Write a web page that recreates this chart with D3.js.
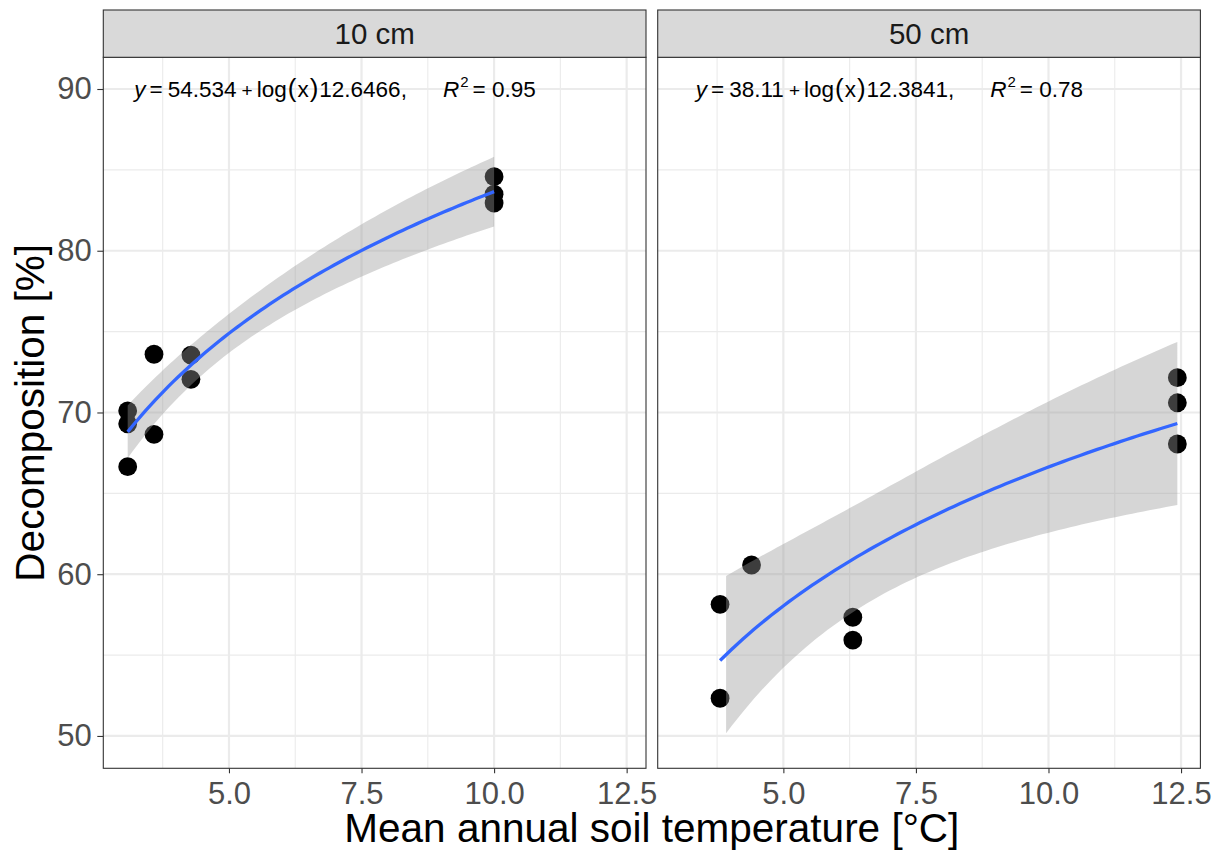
<!DOCTYPE html>
<html>
<head>
<meta charset="utf-8">
<script src="https://cdn.jsdelivr.net/npm/d3@7"></script>
<style>
  html, body { margin: 0; padding: 0; background: #fff; }
  svg { display: block; font-family: "Liberation Sans", Arial, sans-serif; }
</style>
</head>
<body>
<svg id="chart" width="1223" height="852"></svg>
<script>
// Facet labels (soil depth)
const depths = ["10 cm", "50 cm"];

// Mean annual soil temperature [°C] and decomposition [%] for each depth
const temp10 = [3.09, 3.09, 3.09, 3.586, 3.586, 4.283, 4.283, 10.0, 10.0, 10.0];
const decomp10 = [70.1, 69.3, 66.65, 73.6, 68.65, 73.55, 72.05, 84.58, 83.5, 82.95];
const temp50 = [3.806, 3.806, 4.40, 6.31, 6.31, 12.43, 12.43, 12.43];
const decomp50 = [58.14, 52.33, 60.57, 57.34, 55.93, 72.15, 70.6, 68.05];

// Fitted log models y = a + log(x) * b and their R²
const intercepts = [54.534, 38.11];
const slopes = [12.6466, 12.3841];
const r2Labels = ["0.95", "0.78"];
const interceptLabels = ["54.534", "38.11"];
const slopeLabels = ["12.6466", "12.3841"];
// lower x where each confidence ribbon begins
const ribbonStart = [3.09, 3.92];

// Axis breaks
const xBreaks = [5.0, 7.5, 10.0, 12.5];
const xMinor = [3.75, 6.25, 8.75, 11.25];
const yBreaks = [50, 60, 70, 80, 90];
const yMinor = [55, 65, 75, 85];

const svg = d3.select("#chart");

const panelTop = 57.3, panelBottom = 768.3, stripTop = 10;
const panelLefts = [103.3, 657.7], panelWidth = 542.7;
const tickFont = 31;

const y = d3.scaleLinear().domain([48.0, 91.96]).range([panelBottom, panelTop]);

// t quantiles (0.975) for residual df
const tq = { 6: 2.446912, 8: 2.306004 };

const panels = [
  { label: depths[0], xs: temp10, ys: decomp10 },
  { label: depths[1], xs: temp50, ys: decomp50 }
];

panels.forEach((p, i) => {
  const left = panelLefts[i];
  const x = d3.scaleLinear().domain([2.63, 12.865]).range([left, left + panelWidth]);
  const g = svg.append("g");
  const a = intercepts[i], b = slopes[i];
  const f = v => a + Math.log(v) * b;

  // panel background
  g.append("rect").attr("x", left).attr("y", panelTop).attr("width", panelWidth)
    .attr("height", panelBottom - panelTop).attr("fill", "#fff");

  // grid lines
  g.selectAll(".ymin").data(yMinor).join("line")
    .attr("x1", left).attr("x2", left + panelWidth)
    .attr("y1", d => y(d)).attr("y2", d => y(d))
    .attr("stroke", "#ebebeb").attr("stroke-width", 1.1);
  g.selectAll(".xmin").data(xMinor).join("line")
    .attr("y1", panelTop).attr("y2", panelBottom)
    .attr("x1", d => x(d)).attr("x2", d => x(d))
    .attr("stroke", "#ebebeb").attr("stroke-width", 1.1);
  g.selectAll(".ymaj").data(yBreaks).join("line")
    .attr("x1", left).attr("x2", left + panelWidth)
    .attr("y1", d => y(d)).attr("y2", d => y(d))
    .attr("stroke", "#ebebeb").attr("stroke-width", 2.2);
  g.selectAll(".xmaj").data(xBreaks).join("line")
    .attr("y1", panelTop).attr("y2", panelBottom)
    .attr("x1", d => x(d)).attr("x2", d => x(d))
    .attr("stroke", "#ebebeb").attr("stroke-width", 2.2);

  // observations
  const pts = p.xs.map((v, k) => ({ x: v, y: p.ys[k] }));
  g.selectAll(".pt").data(pts).join("circle")
    .attr("cx", d => x(d.x)).attr("cy", d => y(d.y)).attr("r", 9.4)
    .attr("fill", "#000");

  // 95% confidence ribbon of the fitted mean
  const lx = p.xs.map(Math.log);
  const n = lx.length;
  const mean = d3.mean(lx);
  const sxx = d3.sum(lx, v => (v - mean) ** 2);
  const sse = d3.sum(pts, d => (d.y - f(d.x)) ** 2);
  const sigma = Math.sqrt(sse / (n - 2));
  const t = tq[n - 2];
  const xmin = d3.min(p.xs), xmax = d3.max(p.xs);
  const grid = d3.range(0, 81).map(k => xmin + (xmax - xmin) * k / 80);
  const band = d3.range(0, 81).map(k => ribbonStart[i] + (xmax - ribbonStart[i]) * k / 80).map(v => {
    const se = sigma * Math.sqrt(1 / n + (Math.log(v) - mean) ** 2 / sxx);
    return { x: v, lo: f(v) - t * se, hi: f(v) + t * se };
  });
  g.append("path").datum(band)
    .attr("d", d3.area().x(d => x(d.x)).y0(d => y(d.lo)).y1(d => y(d.hi)))
    .attr("fill", "#999999").attr("fill-opacity", 0.4);

  // fitted curve
  g.append("path").datum(grid)
    .attr("d", d3.line().x(d => x(d)).y(d => y(f(d))))
    .attr("fill", "none").attr("stroke", "#3366FF").attr("stroke-width", 3.3);

  // equation label
  const eq = g.append("text")
    .attr("x", x(7.0)).attr("y", y(90)).attr("dy", "0.36em")
    .attr("text-anchor", "middle").attr("font-size", 22.5).attr("fill", "#000");
  eq.append("tspan").attr("font-style", "italic").text("y");
  eq.append("tspan").attr("dx", 4).text("=");
  eq.append("tspan").attr("dx", 5).text(interceptLabels[i]);
  eq.append("tspan").attr("dx", 5).attr("font-size", 19).text("+");
  eq.append("tspan").attr("dx", 4).text("log");
  eq.append("tspan").attr("dx", 1).attr("font-size", 26).text("(");
  eq.append("tspan").attr("dx", 1).text("x");
  eq.append("tspan").attr("dx", 1).attr("font-size", 26).text(")");
  eq.append("tspan").attr("dx", 1).text(slopeLabels[i] + ",");
  eq.append("tspan").attr("dx", 36).attr("font-style", "italic").text("R");
  eq.append("tspan").attr("font-size", 15).attr("dy", -10).attr("dx", 1).text("2");
  eq.append("tspan").attr("dy", 10).attr("dx", 4).text("= " + r2Labels[i]);

  // panel border
  g.append("rect").attr("x", left).attr("y", panelTop).attr("width", panelWidth)
    .attr("height", panelBottom - panelTop).attr("fill", "none")
    .attr("stroke", "#333").attr("stroke-width", 1.1);

  // strip
  g.append("rect").attr("x", left).attr("y", stripTop).attr("width", panelWidth)
    .attr("height", panelTop - stripTop).attr("fill", "#d9d9d9")
    .attr("stroke", "#333").attr("stroke-width", 1.1);
  g.append("text").attr("x", left + panelWidth / 2).attr("y", (stripTop + panelTop) / 2)
    .attr("dy", "0.36em").attr("text-anchor", "middle")
    .attr("font-size", 29.5).attr("fill", "#1a1a1a").text(p.label);

  // x axis
  const xAxis = d3.axisBottom(x).tickValues(xBreaks).tickFormat(d3.format(".1f"))
    .tickSizeOuter(0).tickSize(5).tickPadding(8.4);
  const ax = svg.append("g").attr("transform", `translate(0,${panelBottom})`).call(xAxis);
  ax.select(".domain").remove();
  ax.selectAll(".tick line").attr("stroke", "#333").attr("stroke-width", 1.1);
  ax.selectAll(".tick text").attr("fill", "#4d4d4d").attr("font-size", tickFont)
    .attr("font-family", "Liberation Sans, Arial, sans-serif");

  // y axis on the first panel only
  if (i === 0) {
    const yAxis = d3.axisLeft(y).tickValues(yBreaks).tickSizeOuter(0).tickSize(6).tickPadding(5.6);
    const ay = svg.append("g").attr("transform", `translate(${left},0)`).call(yAxis);
    ay.select(".domain").remove();
    ay.selectAll(".tick line").attr("stroke", "#333").attr("stroke-width", 1.1);
    ay.selectAll(".tick text").attr("fill", "#4d4d4d").attr("font-size", tickFont)
      .attr("font-family", "Liberation Sans, Arial, sans-serif");
  }
});

// axis titles
svg.append("text").attr("x", (panelLefts[0] + panelLefts[1] + panelWidth) / 2).attr("y", 842)
  .attr("text-anchor", "middle").attr("font-size", 40.5).attr("fill", "#000")
  .text("Mean annual soil temperature [°C]");
svg.append("text")
  .attr("transform", `translate(44,${(panelTop + panelBottom) / 2}) rotate(-90)`)
  .attr("text-anchor", "middle").attr("font-size", 40.5).attr("fill", "#000")
  .text("Decomposition [%]");
</script>
</body>
</html>
